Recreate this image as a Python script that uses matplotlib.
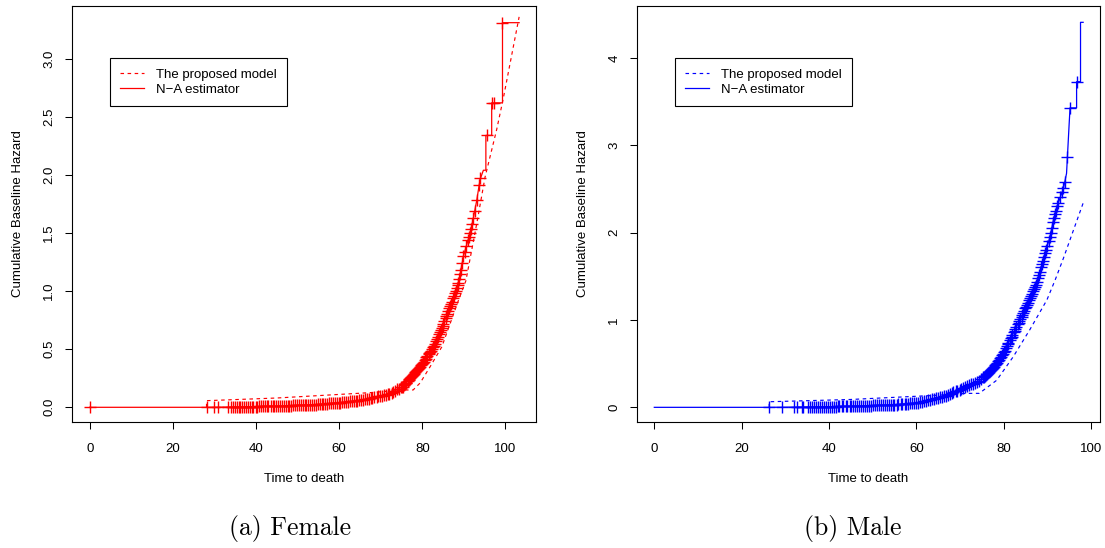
import matplotlib.pyplot as plt
import numpy as np

plt.rcParams['font.family'] = ['Liberation Sans', 'DejaVu Sans']

# ---- Female: Nelson-Aalen estimate (vertices)
f_na_t = [0, 28.1, 35, 45, 55, 60, 65, 67.4, 72, 75.4, 79.5, 82.7, 85.1, 87.1,
          88.7, 89.9, 91.5, 92.3, 93.1, 93.9, 94.7, 95.3, 95.3, 96.7, 96.7,
          99.3, 99.3, 103.3]
f_na_H = [0, 0, 0.003, 0.01, 0.025, 0.04, 0.06, 0.077, 0.115, 0.18, 0.35, 0.52,
          0.72, 0.91, 1.07, 1.30, 1.50, 1.63, 1.78, 1.96, 2.04, 2.04, 2.34, 2.34,
          2.62, 2.62, 3.31, 3.31]
# Female: proposed model
f_mod_t = [28.1, 28.1, 45, 67.4, 75.4, 77.8, 79.5, 81.9, 84.7, 86.7, 88.7, 90.5,
           93.1, 95.1, 97.9, 99.5, 103.3]
f_mod_H = [0.0, 0.057, 0.08, 0.126, 0.149, 0.149, 0.21, 0.35, 0.52, 0.72, 0.92,
           1.09, 1.58, 1.98, 2.39, 2.66, 3.36]
# Female: censoring times
f_cens = [0, 28.1, 29.9, 30.9, 33.3, 33.9, 34.5, 35.0, 35.4, 35.8, 36.2, 36.7,
          37.1, 37.6, 38.0, 38.5, 39.0, 39.4, 39.9, 40.3, 40.8, 41.2, 41.7, 42.1,
          42.6, 43.0, 43.5, 44.0, 44.4, 44.9, 45.3, 45.8, 46.2, 46.7, 47.1, 47.6,
          48.0, 48.5, 49.0, 49.4, 49.9, 50.3, 50.8, 51.2, 51.7, 52.1, 52.6, 53.0,
          53.5, 54.0, 54.4, 54.9, 55.3, 55.8, 56.2, 56.7, 57.1, 57.6, 58.0, 58.5,
          59.0, 59.4, 59.9, 60.3, 60.8, 61.2, 61.7, 62.1, 62.6, 63.0, 63.5, 64.0,
          64.4, 64.9, 65.3, 65.8, 66.2, 66.7, 67.1, 67.6, 68.0, 68.5, 69.0, 69.4,
          69.9, 70.3, 70.8, 71.2, 71.7, 72.1, 72.6, 73.0, 73.5, 74.0, 74.4, 74.9,
          75.1, 75.3, 75.6, 75.8, 76.0, 76.2, 76.5, 76.7, 76.9, 77.1, 77.4, 77.6,
          77.8, 78.0, 78.3, 78.5, 78.7, 79.0, 79.2, 79.4, 79.7, 79.9, 80.1, 80.3,
          80.6, 80.8, 81.0, 81.2, 81.5, 81.7, 81.9, 82.1, 82.4, 82.6, 82.8, 83.0,
          83.3, 83.5, 83.7, 84.0, 84.2, 84.4, 84.7, 84.9, 85.1, 85.3, 85.6, 85.8,
          86.0, 86.2, 86.5, 86.7, 86.9, 87.1, 87.4, 87.6, 87.8, 88.0, 88.3, 88.5,
          88.7, 88.9, 89.1, 89.3, 89.6, 89.9, 90.2, 90.6, 91.0, 91.2, 91.5, 91.7,
          92.0, 92.3, 92.6, 93.1, 93.7, 94.0, 95.5, 96.7, 97.2, 99.3]

# ---- Male: Nelson-Aalen estimate
m_na_t = [0, 26.3, 35, 45, 55, 60, 63.1, 66, 68, 70.8, 74.6, 77.6, 79.9, 82.2,
          84.5, 86.0, 87.6, 89.1, 90.6, 91.4, 92.5, 93.7, 94.4, 94.6, 95.0, 95.2,
          96.7, 96.7, 97.6, 97.6, 98.2]
m_na_H = [0, 0, 0.004, 0.012, 0.03, 0.05, 0.085, 0.12, 0.16, 0.22, 0.31, 0.45,
          0.62, 0.85, 1.08, 1.24, 1.42, 1.70, 1.95, 2.15, 2.34, 2.51, 2.68, 2.87,
          3.25, 3.43, 3.43, 3.73, 3.73, 4.41, 4.41]
# Male: proposed model
m_mod_t = [26.3, 26.3, 45, 65.4, 71.5, 74.4, 78.4, 82.2, 86.0, 89.9, 91.8, 93.7,
           98.2]
m_mod_H = [0.0, 0.064, 0.09, 0.14, 0.16, 0.16, 0.31, 0.58, 0.89, 1.23, 1.46,
           1.71, 2.34]
# Male: censoring times
m_cens = [26.3, 29.2, 32.1, 32.6, 33.8, 34.1, 35.3, 35.7, 36.2, 36.6, 37.0, 37.5,
          37.9, 38.4, 38.8, 39.3, 39.7, 40.2, 40.6, 41.1, 41.5, 42.0, 42.4, 42.9,
          43.3, 43.8, 44.2, 44.7, 45.1, 45.6, 46.0, 46.5, 46.9, 47.4, 47.8, 48.3,
          48.7, 49.2, 49.6, 50.1, 50.5, 51.0, 51.4, 51.9, 52.3, 52.8, 53.2, 53.7,
          54.1, 54.6, 55.0, 55.5, 55.9, 56.4, 56.8, 57.3, 57.7, 58.2, 58.6, 59.1,
          59.5, 60.0, 60.4, 60.9, 61.3, 61.8, 62.2, 62.7, 63.1, 63.6, 64.0, 64.5,
          64.9, 65.4, 65.8, 66.3, 66.7, 67.2, 67.6, 68.1, 68.5, 69.0, 69.4, 69.9,
          70.3, 70.8, 71.2, 71.7, 72.1, 72.6, 73.0, 73.5, 73.9, 74.4, 74.8, 75.3,
          75.5, 75.7, 76.0, 76.2, 76.4, 76.6, 76.9, 77.1, 77.3, 77.5, 77.8, 78.0,
          78.2, 78.4, 78.7, 78.9, 79.1, 79.3, 79.6, 79.8, 80.0, 80.2, 80.5, 80.7,
          80.9, 81.1, 81.4, 81.6, 81.8, 82.0, 82.3, 82.5, 82.7, 82.9, 83.2, 83.4,
          83.6, 83.8, 84.1, 84.3, 84.5, 84.7, 85.0, 85.2, 85.4, 85.6, 85.9, 86.1,
          86.3, 86.5, 86.8, 87.0, 87.2, 87.4, 87.7, 87.9, 88.1, 88.3, 88.6, 88.8,
          89.0, 89.2, 89.5, 89.7, 90.0, 90.3, 90.6, 90.8, 91.0, 91.3, 91.5, 91.8,
          92.0, 92.3, 92.5, 93.0, 93.4, 93.7, 94.0, 94.6, 95.2, 96.7]

x_ticks = [0, 20, 40, 60, 80, 100]
f_y_ticks = [0.0, 0.5, 1.0, 1.5, 2.0, 2.5, 3.0]
f_y_labels = ["0.0", "0.5", "1.0", "1.5", "2.0", "2.5", "3.0"]
m_y_ticks = [0, 1, 2, 3, 4]
m_y_labels = ["0", "1", "2", "3", "4"]


def draw_panel(ax, na_t, na_H, mod_t, mod_H, cens, col, yticks, ylabels, xlim, ylim):
    ax.plot(mod_t, mod_H, color=col, lw=0.85, dashes=(3, 3), label="The proposed model")
    ax.plot(na_t, na_H, color=col, lw=0.9, label="N\u2212A estimator")
    cens_H = np.interp(cens, na_t, na_H)
    ax.plot(cens, cens_H, '+', color=col, ms=8.5, mew=1.0)
    ax.set_xlim(xlim)
    ax.set_ylim(ylim)
    ax.set_xticks(x_ticks)
    ax.set_yticks(yticks)
    ax.set_yticklabels(ylabels)
    ax.tick_params(direction='out', length=5, width=0.75, labelsize=9.5, pad=10)
    ax.tick_params(axis='y', labelrotation=90, pad=7)
    for lab in ax.get_yticklabels():
        lab.set_va('center')
    for sp in ax.spines.values():
        sp.set_linewidth(0.8)
    ax.set_xlabel("Time to death", fontsize=9.5)
    ax.set_ylabel("Cumulative Baseline Hazard", fontsize=9.5)
    ax.xaxis.set_label_coords(0.5, -0.122)
    ax.yaxis.set_label_coords(-0.104, 0.5)
    leg = ax.legend(loc='upper left', bbox_to_anchor=(0.082, 0.874), borderaxespad=0,
                    fontsize=9.5, fancybox=False, edgecolor='black', framealpha=1,
                    handlelength=1.85, handletextpad=0.9, labelspacing=0.25,
                    borderpad=0.75)
    leg.get_frame().set_linewidth(0.8)


fig = plt.figure(figsize=(11.05, 5.48), dpi=100)
ax1 = fig.add_axes([72 / 1105, 126 / 548, 464 / 1105, 416 / 548])
ax2 = fig.add_axes([637 / 1105, 126 / 548, 463 / 1105, 416 / 548])

draw_panel(ax1, f_na_t, f_na_H, f_mod_t, f_mod_H, f_cens, '#FF0000',
           f_y_ticks, f_y_labels, (-4.26, 107.36), (-0.1265, 3.4535))
draw_panel(ax2, m_na_t, m_na_H, m_mod_t, m_mod_H, m_cens, '#0000FF',
           m_y_ticks, m_y_labels, (-3.96, 102.06), (-0.168, 4.597))

fig.text(290 / 1105, 20 / 548, "(a) Female", family='cmr10', fontsize=18.5,
         ha='center', va='center')
fig.text(853 / 1105, 20 / 548, "(b) Male", family='cmr10', fontsize=18.5,
         ha='center', va='center')

plt.savefig("out.png", dpi=100)
